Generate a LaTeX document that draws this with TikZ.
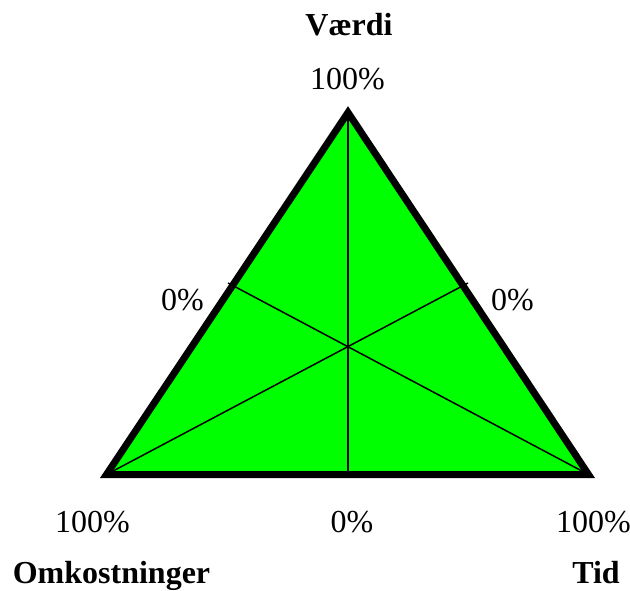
\documentclass[tikz,border=0pt]{standalone}
\usepackage{fontspec}
\setmainfont{Liberation Serif}
\begin{document}
\begin{tikzpicture}[x=1pt,y=-1pt,
  lbl/.style={anchor=base,inner sep=0pt,font=\fontsize{32}{38}\selectfont},
  ttl/.style={anchor=base,inner sep=0pt,font=\fontsize{32}{38}\selectfont\bfseries},
  thin/.style={line width=1.5pt,black},
  outline/.style={line width=7pt,black,line join=miter}]
\useasboundingbox (0,0) rectangle (630,591);
\coordinate (T) at (348,112.5);
\coordinate (L) at (106.5,474.5);
\coordinate (R) at (588.5,474.5);
\coordinate (ML) at (228,283);
\coordinate (MR) at (468,283);
\coordinate (MB) at (348,474.5);
\fill[green] (T) -- (L) -- (R) -- cycle;
\draw[thin] (T) -- (MB);
\draw[thin] (L) -- (MR);
\draw[thin] (R) -- (ML);
\draw[outline] (T) -- (L) -- (R) -- cycle;
\node[ttl] (vaerdi) at (349,36) {Værdi};
\node[lbl] (top) at (347.5,90) {100\%};
\node[lbl] (left0) at (182.5,310) {0\%};
\node[lbl] (right0) at (512.5,310) {0\%};
\node[lbl] (bl) at (92.5,532) {100\%};
\node[lbl] (bm) at (352,532) {0\%};
\node[lbl] (br) at (593.5,532) {100\%};
\node[ttl] (omk) at (111.5,583) {Omkostninger};
\node[ttl] (tid) at (596,583) {Tid};
\end{tikzpicture}
\end{document}
